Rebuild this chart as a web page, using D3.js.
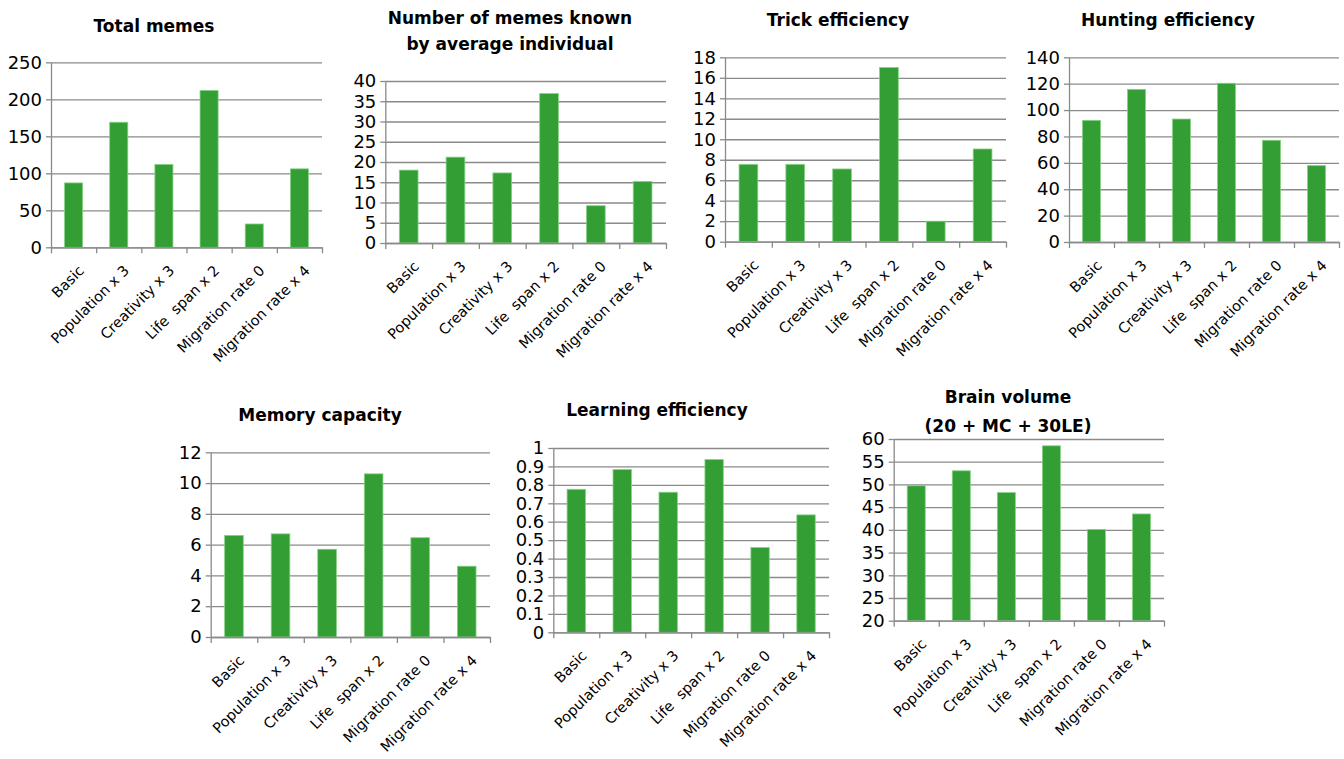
<!DOCTYPE html>
<html>
<head>
<meta charset="utf-8">
<script src="https://cdn.jsdelivr.net/npm/d3@7"></script>
<style>
  html, body { margin: 0; padding: 0; background: #ffffff; }
  svg { display: block; }
  text { font-family: "DejaVu Sans", sans-serif; fill: #000; }
  .title { font-weight: bold; font-size: 17px; }
  .ylab text { font-size: 18px; }
  .xlab text { font-size: 14.5px; white-space: pre; }
</style>
</head>
<body>
<svg id="chart" width="1344" height="759"></svg>
<script>
// Simulation scenarios shown along every x axis
const categories = ["Basic", "Population x 3", "Creativity x 3", "Life  span x 2", "Migration rate 0", "Migration rate x 4"];

// Results per scenario
const totalMemes         = [87, 169, 112, 212, 31.5, 106];
const memesPerIndividual = [18.0, 21.2, 17.3, 36.9, 9.2, 15.2];
const trickEfficiency    = [7.55, 7.55, 7.1, 17.0, 2.0, 9.05];
const huntingEfficiency  = [92.2, 115.7, 93.2, 120.3, 77.1, 57.9];
const memoryCapacity     = [6.6, 6.7, 5.7, 10.6, 6.45, 4.6];
const learningEfficiency = [0.776, 0.883, 0.76, 0.937, 0.46, 0.637];
const brainVolume        = [49.7, 53.0, 48.2, 58.5, 40.1, 43.5];

// Y tick values per chart
const ticksTotal    = [0, 50, 100, 150, 200, 250];
const ticksKnown    = [0, 5, 10, 15, 20, 25, 30, 35, 40];
const ticksTrick    = [0, 2, 4, 6, 8, 10, 12, 14, 16, 18];
const ticksHunting  = [0, 20, 40, 60, 80, 100, 120, 140];
const ticksMemory   = [0, 2, 4, 6, 8, 10, 12];
const ticksLearning = [0, 0.1, 0.2, 0.3, 0.4, 0.5, 0.6, 0.7, 0.8, 0.9, 1];
const ticksBrain    = [20, 25, 30, 35, 40, 45, 50, 55, 60];

// Titles
const titleTotal    = ["Total memes"];
const titleKnown    = ["Number of memes known", "by average individual"];
const titleTrick    = ["Trick efficiency"];
const titleHunting  = ["Hunting efficiency"];
const titleMemory   = ["Memory capacity"];
const titleLearning = ["Learning efficiency"];
const titleBrain    = ["Brain volume", "(20 + MC + 30LE)"];

// Layout of each small chart: plot box and title placement
const panels = [
  { values: totalMemes,         ticks: ticksTotal,    title: titleTotal,    box: [51, 62.3, 322, 247.3],    tx: 154,  ty: [32] },
  { values: memesPerIndividual, ticks: ticksKnown,    title: titleKnown,    box: [385.3, 81, 666, 243],     tx: 510,  ty: [24, 50] },
  { values: trickEfficiency,    ticks: ticksTrick,    title: titleTrick,    box: [725, 57.3, 1006, 241.7],  tx: 838,  ty: [26] },
  { values: huntingEfficiency,  ticks: ticksHunting,  title: titleHunting,  box: [1069, 57.3, 1339, 242],   tx: 1168, ty: [26] },
  { values: memoryCapacity,     ticks: ticksMemory,   title: titleMemory,   box: [210.7, 452.3, 490, 637],  tx: 320,  ty: [421] },
  { values: learningEfficiency, ticks: ticksLearning, title: titleLearning, box: [553.3, 448, 829, 632.3],  tx: 657,  ty: [416] },
  { values: brainVolume,        ticks: ticksBrain,    title: titleBrain,    box: [893.7, 439, 1164, 620.7], tx: 1008, ty: [403, 432] }
];

const GRID = "#8a8a8a";
const BAR = "#339e33";
const BAR_EDGE = "#86d186";

const svg = d3.select("#chart");
const fmt = d3.format("~g");

panels.forEach(p => {
  const [x0, y0, x1, y1] = p.box;
  const w = x1 - x0, h = y1 - y0;
  const g = svg.append("g").attr("transform", `translate(${x0},${y0})`);

  const x = d3.scaleBand().domain(categories).range([0, w]).paddingInner(0.6).paddingOuter(0.3);
  const xEdge = d3.scaleLinear().domain([0, categories.length]).range([0, w]);
  const y = d3.scaleLinear().domain(d3.extent(p.ticks)).range([h, 0]);

  // horizontal gridlines
  const grid = g.append("g").call(d3.axisLeft(y).tickValues(p.ticks).tickSize(-w).tickFormat(""));
  grid.select(".domain").remove();
  grid.selectAll("line").attr("stroke", GRID).attr("stroke-width", 1.3);

  // y axis with short outer ticks and labels
  const ya = g.append("g").attr("class", "ylab")
    .call(d3.axisLeft(y).tickValues(p.ticks).tickSize(5).tickSizeOuter(0).tickPadding(4).tickFormat(fmt));
  ya.select(".domain").attr("stroke", GRID).attr("stroke-width", 1.3);
  ya.selectAll("line").attr("stroke", GRID).attr("stroke-width", 1.3);
  ya.selectAll("text").attr("font-family", null).attr("font-size", null);

  // bars
  g.selectAll("rect.bar").data(p.values).join("rect")
    .attr("class", "bar")
    .attr("x", (d, i) => x(categories[i]))
    .attr("width", x.bandwidth())
    .attr("y", d => y(d))
    .attr("height", d => h - y(d))
    .attr("fill", BAR)
    .attr("stroke", BAR_EDGE)
    .attr("stroke-width", 0.8);

  // category boundary ticks along the baseline
  const xb = g.append("g").attr("transform", `translate(0,${h})`)
    .call(d3.axisBottom(xEdge).tickValues(d3.range(categories.length + 1)).tickSize(6).tickSizeOuter(0).tickFormat(""));
  xb.select(".domain").attr("stroke", GRID).attr("stroke-width", 1.3);
  xb.selectAll("line").attr("stroke", GRID).attr("stroke-width", 1.3);

  // rotated category labels
  const xl = g.append("g").attr("class", "xlab").attr("transform", `translate(0,${h})`)
    .call(d3.axisBottom(x).tickSize(0).tickPadding(0));
  xl.select(".domain").remove();
  xl.selectAll("text")
    .attr("font-family", null).attr("font-size", null)
    .attr("text-anchor", "end")
    .attr("y", 0).attr("dy", "0.71em")
    .attr("transform", "translate(4,17) rotate(-45)");

  // title
  const t = svg.append("text").attr("class", "title").attr("text-anchor", "middle");
  p.title.forEach((line, i) => {
    t.append("tspan").attr("x", p.tx).attr("y", p.ty[i]).text(line);
  });
});
</script>
</body>
</html>
